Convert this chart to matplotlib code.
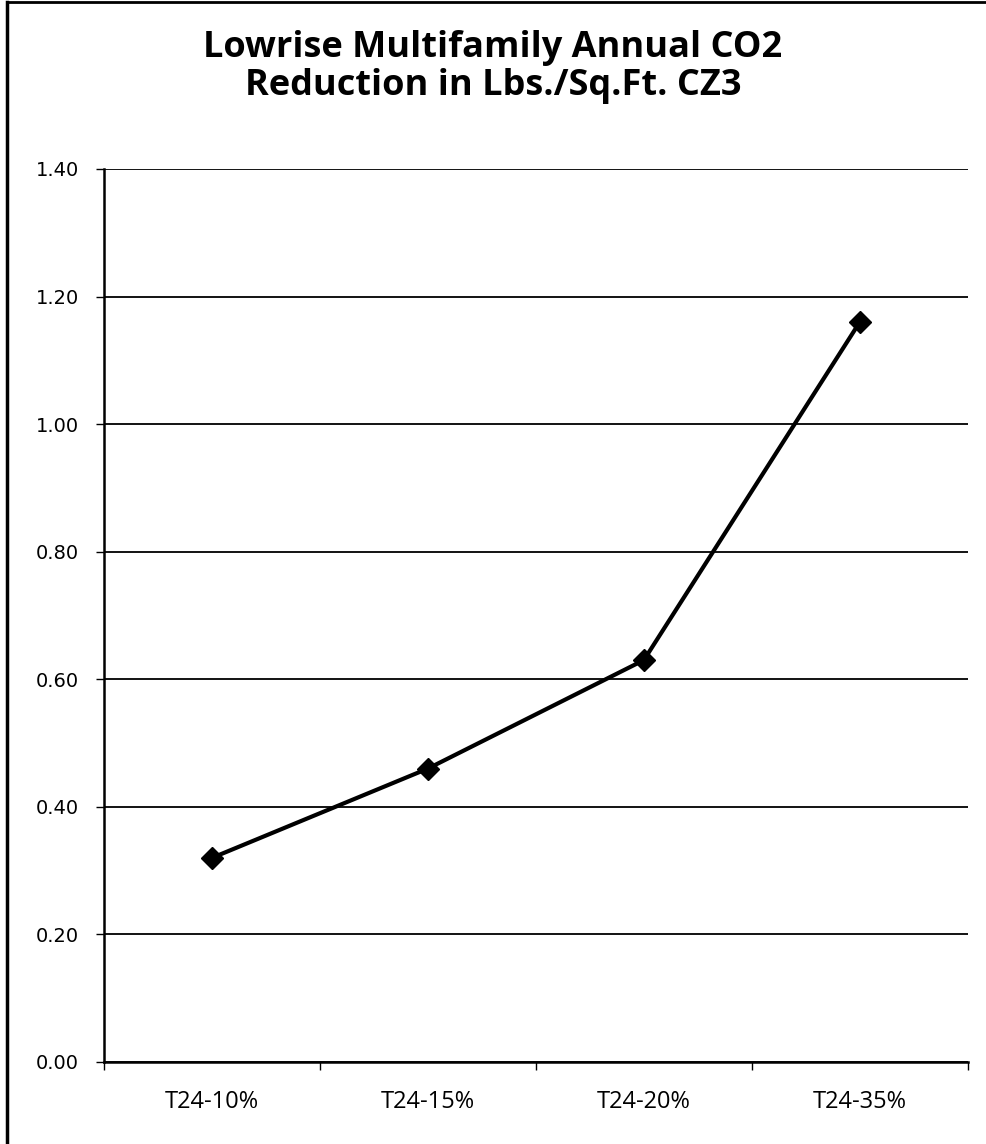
import matplotlib
matplotlib.use("Agg")
import matplotlib.pyplot as plt
from matplotlib.ticker import FixedLocator
import numpy as np

# CO2 reduction per square foot, climate zone 3
categories = ["T24-10%", "T24-15%", "T24-20%", "T24-35%"]
reduction = [0.32, 0.46, 0.63, 1.16]
yticks = [0.00, 0.20, 0.40, 0.60, 0.80, 1.00, 1.20, 1.40]

fig = plt.figure(figsize=(9.86, 11.44), dpi=100)
ax = fig.add_axes([0.1055, 0.0717, 0.876, 0.7806])

x = np.arange(len(categories))
ax.plot(x, reduction, color="black", linewidth=3, marker="D",
        markersize=11, zorder=3)

ax.set_xlim(-0.5, len(categories) - 0.5)
ax.set_ylim(0, 1.4)

# horizontal gridlines
ax.set_yticks(yticks)
ax.set_yticklabels(["%.2f" % v for v in yticks], fontsize=14,
                   family="DejaVu Sans")
ax.yaxis.grid(True, color="black", linewidth=1.3)
ax.set_axisbelow(True)
ax.tick_params(axis="y", length=6, width=1, direction="out", pad=12)

# category labels sit between the tick marks
ax.set_xticks(x)
ax.set_xticklabels(categories, fontsize=17, family="Open Sans")
ax.xaxis.set_minor_locator(FixedLocator(np.arange(-0.5, len(categories), 1.0)))
ax.tick_params(axis="x", which="major", length=0, pad=20)
ax.tick_params(axis="x", which="minor", length=6, width=1, direction="out")

for side in ["top", "right"]:
    ax.spines[side].set_visible(False)
ax.spines["left"].set_linewidth(1.8)
ax.spines["bottom"].set_linewidth(1.8)

fig.text(0.5, 0.9502, "Lowrise Multifamily Annual CO2", ha="center",
         va="baseline", fontsize=26, fontweight="bold", family="Open Sans")
fig.text(0.5, 0.9170, "Reduction in Lbs./Sq.Ft. CZ3", ha="center",
         va="baseline", fontsize=26, fontweight="bold", family="Open Sans")

# chart frame (left and top edges)
fig.add_artist(plt.Line2D([0.007, 0.007], [0, 0.998], color="black",
                          linewidth=2.5, transform=fig.transFigure))
fig.add_artist(plt.Line2D([0.007, 1.0], [0.998, 0.998], color="black",
                          linewidth=2, transform=fig.transFigure))

fig.savefig("out.png", dpi=100)
